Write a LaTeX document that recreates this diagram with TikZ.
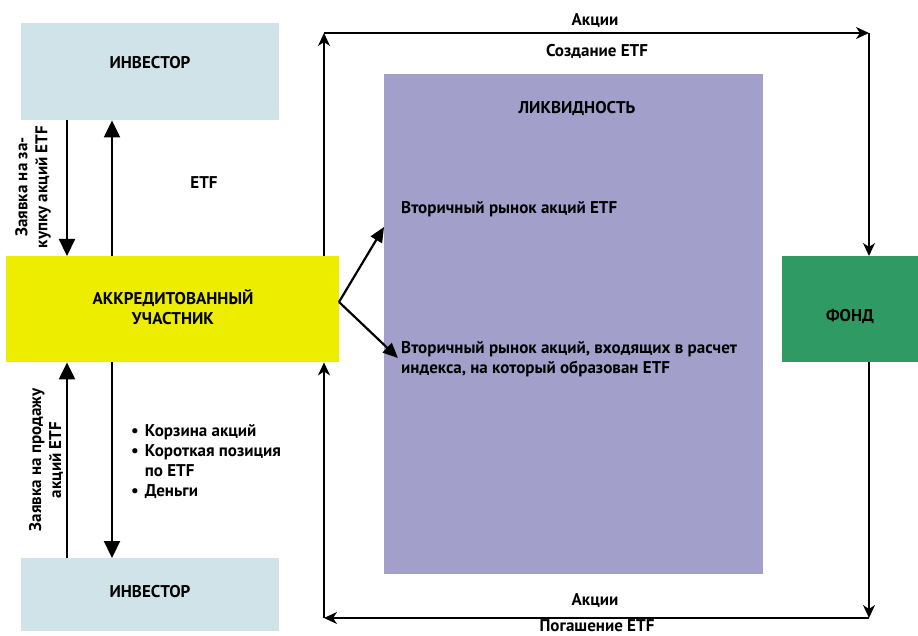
\documentclass[tikz,border=0pt]{standalone}
\usepackage{fontspec}
\setmainfont{PT Sans}
\usetikzlibrary{arrows.meta,calc}
\definecolor{invc}{HTML}{CFE3E8}
\definecolor{apc}{HTML}{EDED00}
\definecolor{liqc}{HTML}{A29FCA}
\definecolor{fondc}{HTML}{2F9A63}
\begin{document}
\begin{tikzpicture}[x=1pt,y=-1pt,
  txt/.style={font=\bfseries\fontsize{17}{20}\selectfont, text=black, inner sep=1pt},
  boxx/.style={draw=none, inner sep=0pt, anchor=north west},
  bigarr/.style={line width=2.2pt, -{Triangle[length=17pt,width=16pt]}},
  looparr/.style={line width=1.7pt, -{Stealth[length=13pt,width=12pt,inset=4pt]}},
  diagarr/.style={line width=2.2pt, -{Triangle[length=15pt,width=13pt]}}]
\useasboundingbox (0,0) rectangle (918,636);
% boxes
\node[boxx, fill=invc, minimum width=258pt, minimum height=97pt] (inv1) at (21,23) {};
\node[boxx, fill=apc, minimum width=333pt, minimum height=106pt] (ap) at (6,256) {};
\node[boxx, fill=invc, minimum width=258pt, minimum height=73pt] (inv2) at (21,558) {};
\node[boxx, fill=liqc, minimum width=379pt, minimum height=500pt] (liq) at (384,74) {};
\node[boxx, fill=fondc, minimum width=136pt, minimum height=106pt] (fond) at (782,256) {};
% box texts
\node[txt] (tinv1) at (150,63) {ИНВЕСТОР};
\node[txt] (tinv2) at (150,592) {ИНВЕСТОР};
\node[txt, align=center] (tap) at (173,307) {АККРЕДИТОВАННЫЙ\\УЧАСТНИК};
\node[txt] (tliq) at (577,108) {ЛИКВИДНОСТЬ};
\node[txt] (tfond) at (850,316) {ФОНД};
\node[txt, anchor=west] (m1) at (400,209) {Вторичный рынок акций ETF};
\node[txt, anchor=west, align=left] (m2) at (400,359) {Вторичный рынок акций, входящих в расчет\\индекса, на который образован ETF};
% investor <-> AP arrows
\draw[bigarr] (inv1.south -| 67,0) -- (ap.north -| 67,0);
\draw[bigarr] (ap.north -| 112,0) -- (inv1.south -| 112,0);
\draw[bigarr] (inv2.north -| 67,0) -- (ap.south -| 67,0);
\draw[bigarr] (ap.south -| 112,0) -- (inv2.north -| 112,0);
\node[txt] (tetf) at (204,183) {ETF};
\node[txt, rotate=90, align=center] (lbuy) at (33,187) {Заявка на за-\\купку акций ETF};
\node[txt, rotate=90, align=center] (lsell) at (46,460) {Заявка на продажу\\акций ETF};
\node[txt, anchor=north west, align=left] (blist) at (130,421) {%
\begin{tabular}{@{}l@{\hspace{6pt}}l@{}}
•&Корзина акций\\
•&Короткая позиция\\
 &по ETF\\
•&Деньги
\end{tabular}};
% ETF creation loop
\coordinate (c1) at (324,33);
\coordinate (c2) at (869,33);
\coordinate (c3) at (869,618);
\coordinate (c4) at (324,618);
\draw[looparr] (c1 |- ap.north) -- (c1);
\draw[looparr] (c1) -- (c2);
\draw[looparr] (c2) -- (c2 |- fond.north);
\draw[looparr] (c3 |- fond.south) -- (c3);
\draw[looparr] (c3) -- (c4);
\draw[looparr] (c4) -- (c4 |- ap.south);
\node[txt] (a1) at (595,20) {Акции};
\node[txt] (s1) at (597,51) {Создание ETF};
\node[txt] (a2) at (595,600) {Акции};
\node[txt] (s2) at (597,626) {Погашение ETF};
% diagonal arrows
\coordinate (apx) at (339,302);
\draw[diagarr] (apx) -- (384,227);
\draw[diagarr] (apx) -- (398,358);
\end{tikzpicture}
\end{document}
